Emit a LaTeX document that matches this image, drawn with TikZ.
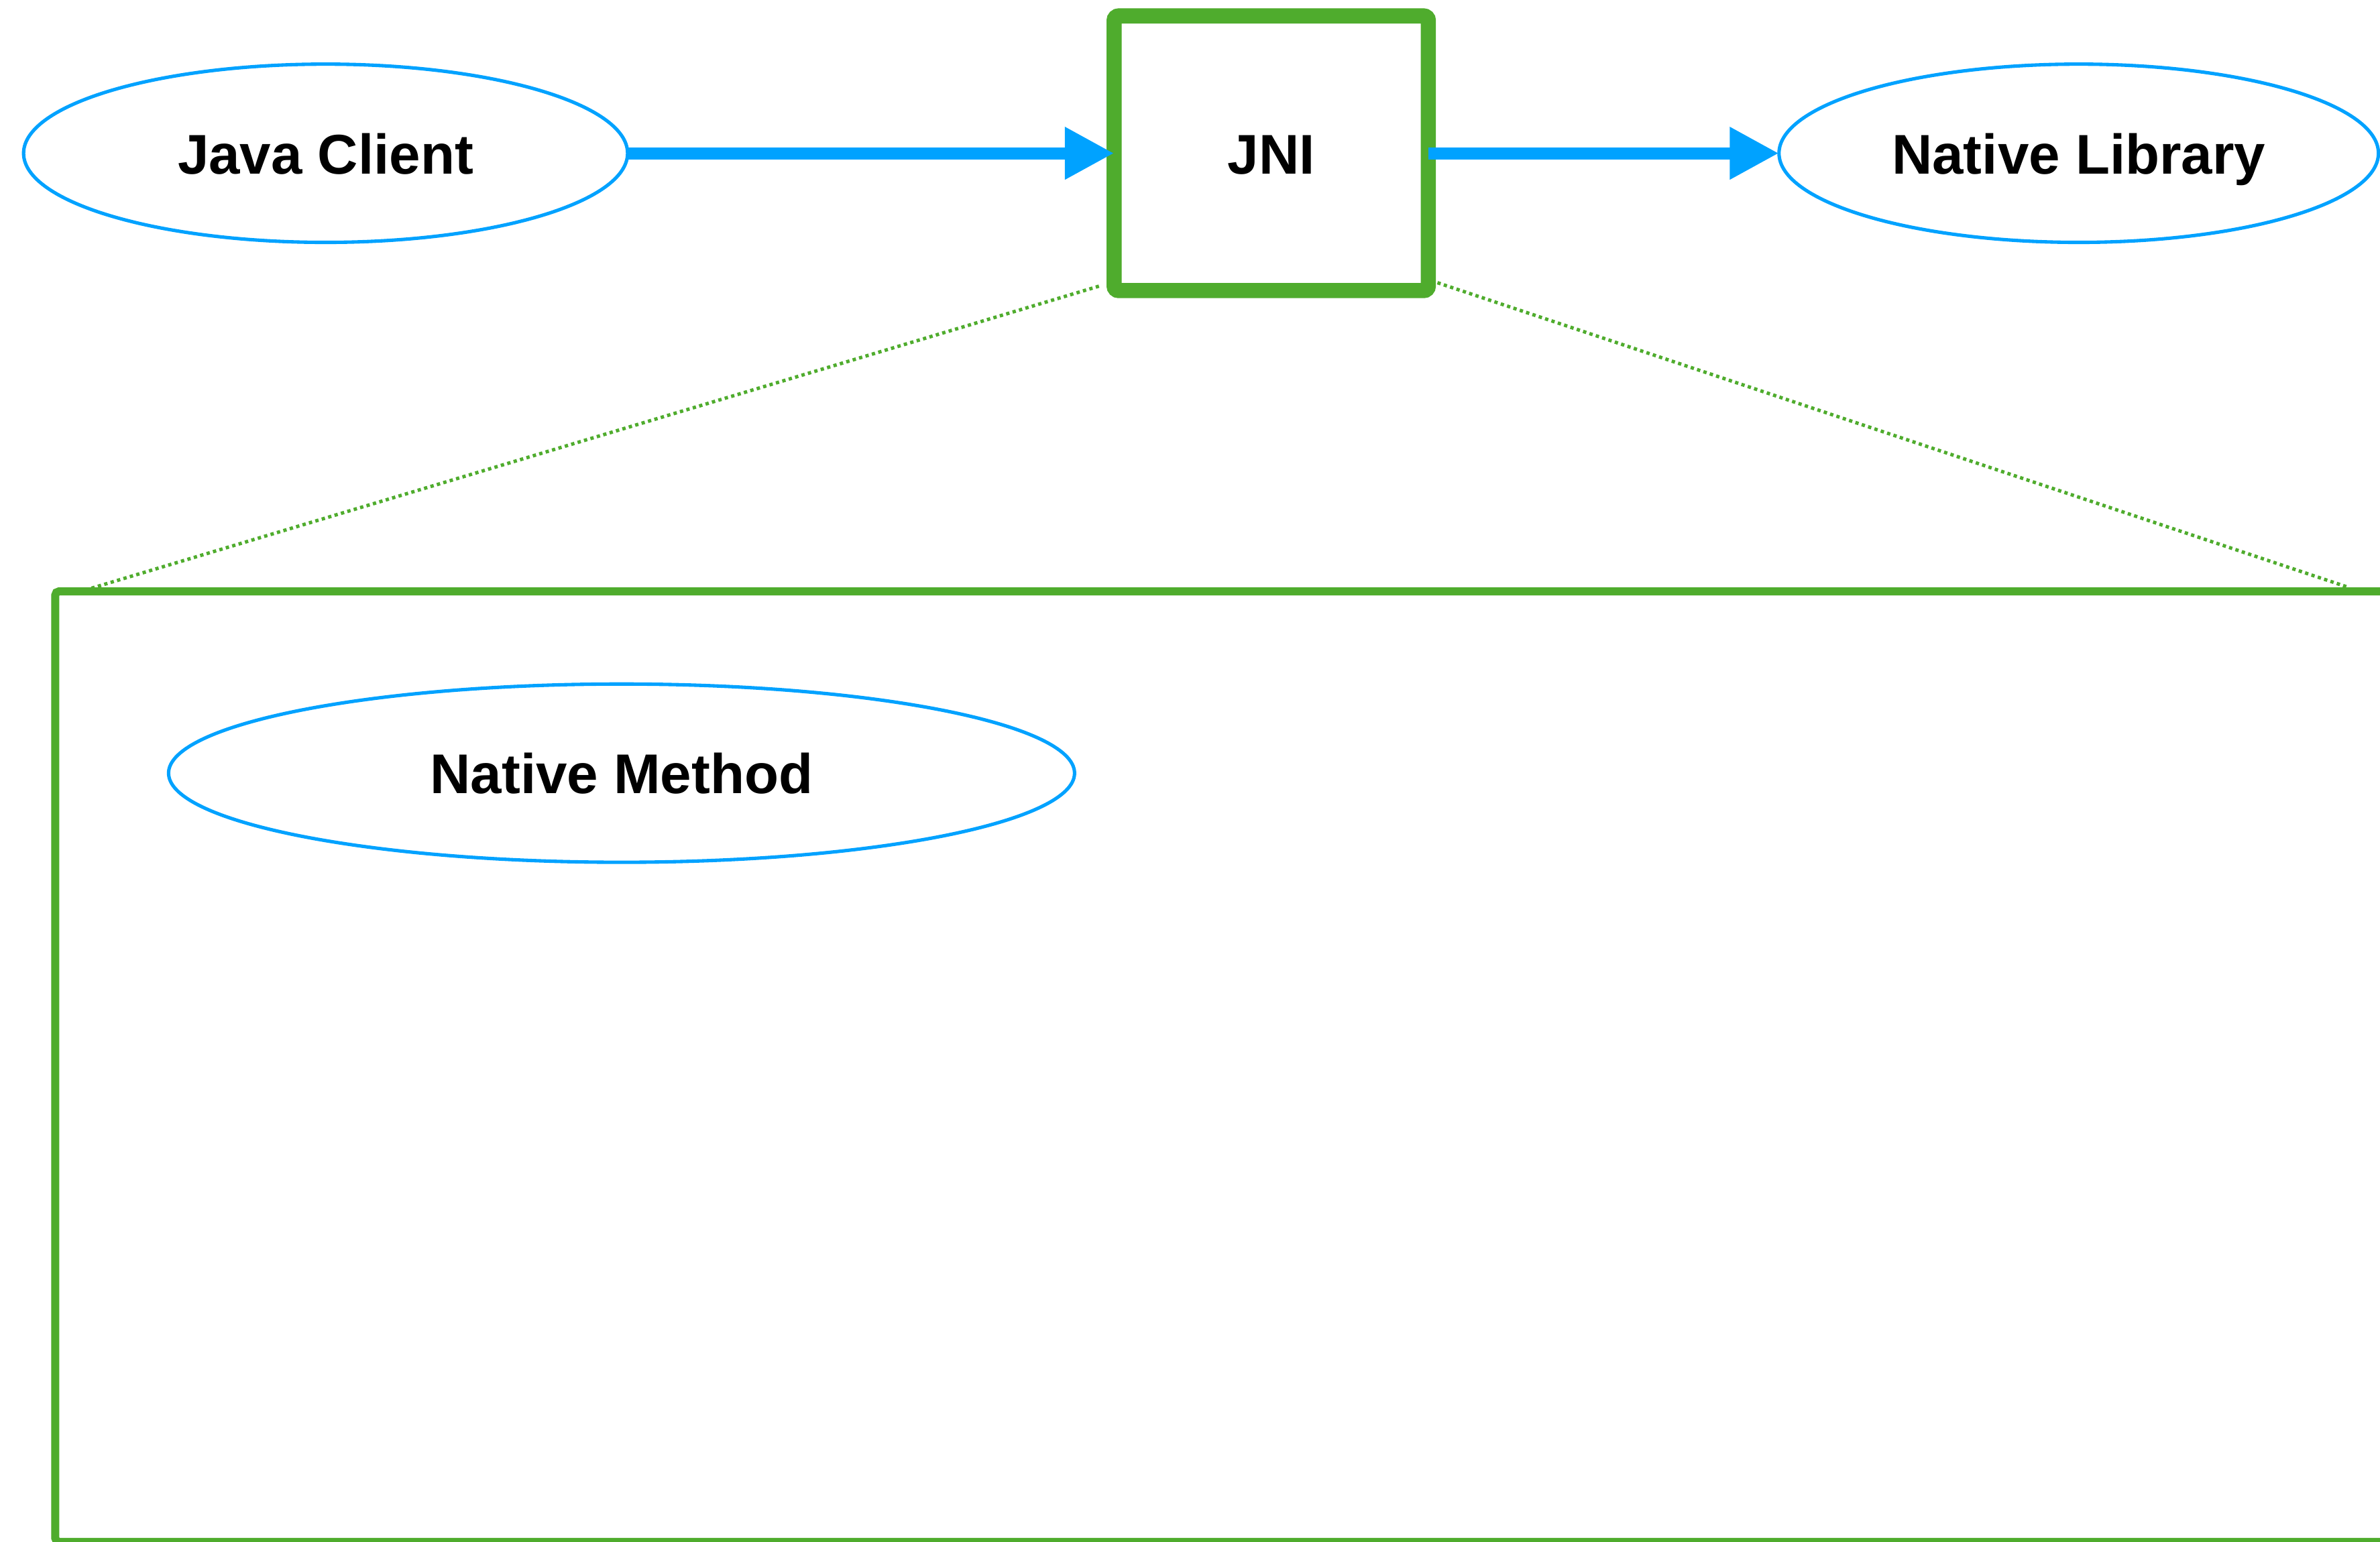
\documentclass[tikz,border=0pt]{standalone}
\usepackage{fontspec}
\setmainfont{Liberation Sans}
\usetikzlibrary{shapes.geometric,arrows.meta}
\definecolor{flowblue}{RGB}{0,162,255}
\definecolor{boxgreen}{RGB}{79,172,45}
\begin{document}
\begin{tikzpicture}[x=0.02cm,y=-0.02cm,
  lbl/.style={font=\bfseries\fontsize{21}{25}\selectfont, text height=0.54cm, text depth=0pt},
  oval/.style={ellipse, draw=flowblue, line width=0.045cm, fill=white, inner sep=0pt, outer sep=0pt, minimum height=2.35cm, lbl},
  jnibox/.style={rectangle, draw=boxgreen, line width=0.2cm, fill=white, rounded corners=0.06cm, inner sep=0pt, outer sep=0pt, minimum width=4.14cm, minimum height=3.62cm, lbl},
  panelbox/.style={rectangle, draw=boxgreen, line width=0.106cm, rounded corners=0.05cm, inner sep=0pt, outer sep=0pt},
  flow/.style={draw=flowblue, line width=0.16cm, -{Triangle[length=0.65cm,width=0.65cm]}},
  zoomline/.style={draw=boxgreen, line width=0.045cm, dash pattern=on 0.044cm off 0.044cm}]
\clip (0,0) rectangle (1568,1016);
\fill[white] (0,0) rectangle (1568,1016);
% panel
\node[panelbox, minimum width=31.27cm, minimum height=12.53cm] (panel) at (818,702.9) {};
\node[oval, minimum width=11.94cm] (nm) at (409.5,509.5) {Native Method};
% zoom lines
\coordinate (jbl) at (724,188.6);
\coordinate (jbr) at (947,186.3);
\coordinate (pl) at (59,388);
\coordinate (pr) at (1547,387);
\draw[zoomline] (jbl) -- (pl);
\draw[zoomline] (jbr) -- (pr);
% top row
\node[oval, minimum width=7.96cm] (jc) at (214.5,101) {Java Client};
\node[jnibox] (jni) at (837.5,101) {JNI};
\node[oval, minimum width=7.9cm] (nl) at (1369.5,101) {Native Library};
\draw[flow] (jc.east) -- (jni.west);
\draw[flow] (jni.east) -- (nl.west);
\end{tikzpicture}
\end{document}
